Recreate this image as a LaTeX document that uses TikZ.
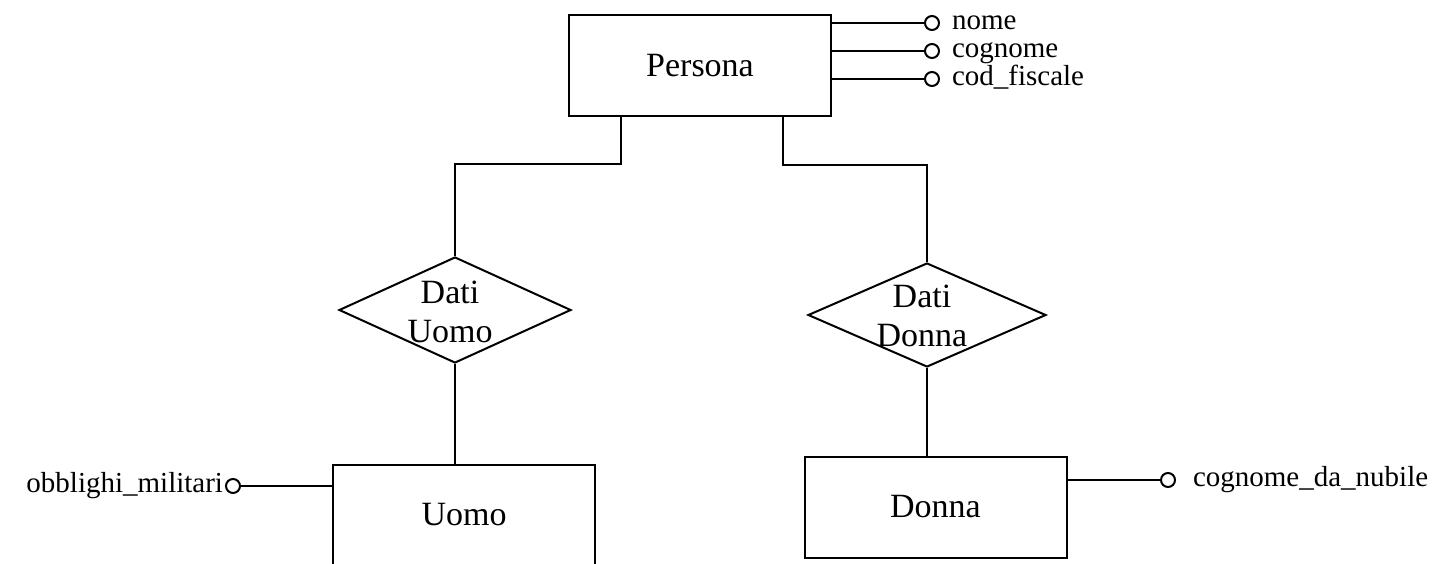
\documentclass[tikz,border=0pt]{standalone}
\usepackage{fontspec}
\setmainfont{Liberation Serif}
\usetikzlibrary{positioning,calc,shapes.geometric}
\tikzset{
  px/.style={x=0.5pt, y=-0.5pt, line width=1pt},
  e ent/.style={draw, rectangle, minimum width=131pt, minimum height=50.5pt, inner sep=0pt, font=\fontsize{17}{19.5}\selectfont},
  e rel/.style={draw, diamond, minimum width=117pt, minimum height=53pt, inner sep=0pt},
  e rtxt/.style={align=center, inner sep=0pt, font=\fontsize{17}{19.5}\selectfont},
  e dot/.style={circle, draw, fill=white, minimum size=7pt, inner sep=0pt},
  e attr/.style={inner sep=0pt, text height=8.5pt, text depth=2.5pt, font=\fontsize{14.5}{17}\selectfont},
}
\begin{document}
\begin{tikzpicture}[px]
\useasboundingbox (0,0) rectangle (1450,563);
\clip (0,0) rectangle (1450,563);
% ---- entities ----
\node[e ent] (p) at (700,65.5) {Persona};
\node[e ent] (u) at (464,515) {Uomo};
\node[e ent] (d) at (935.5,507) {Donna};
% ---- relations ----
\node[e rel, minimum width=116pt] (du) at (455,310) {};
\node[e rel, minimum width=119pt, minimum height=52pt] (dd) at (927,315) {};
\node[e rtxt] (tu) at (450,312) {Dati\\Uomo};
\node[e rtxt] (td) at (922,316) {Dati\\Donna};
% ---- attributes ----
\node[e dot] (a1) at (932,23) {};
\node[e dot] (a2) at (932,51) {};
\node[e dot] (a3) at (932,79) {};
\node[e attr, right=5.5pt of a1] (l1) {nome};
\node[e attr, right=5.5pt of a2] (l2) {cognome};
\node[e attr, right=5.5pt of a3] (l3) {cod\_fiscale};
\node[e dot] (m1) at (233,486) {};
\node[e attr, left=0.5pt of m1] (k1) {obblighi\_militari};
\node[e dot] (n1) at (1168,480) {};
\node[e attr, right=8pt of n1] (j1) {cognome\_da\_nubile};
\draw (p.east |- a1) -- (a1); \draw (p.east |- a2) -- (a2); \draw (p.east |- a3) -- (a3);
\draw (u.west |- m1) -- (m1);
\draw (d.east |- n1) -- (n1);
% ---- hierarchy ----
\draw ($(p.south west)!0.2!(p.south east)$) -- ++(0,47) -| (du.north);
\draw ($(p.south west)!0.813!(p.south east)$) -- ++(0,48) -| (dd.north);
\draw (du.south) -- (du.south |- u.north);
\draw (dd.south) -- (dd.south |- d.north);
\end{tikzpicture}
\end{document}
